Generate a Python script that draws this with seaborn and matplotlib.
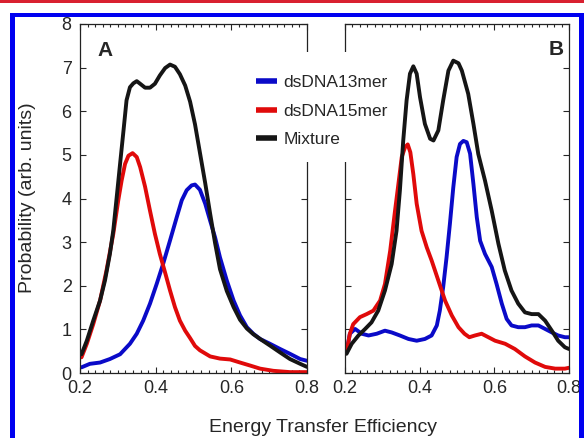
import numpy as np
import pandas as pd
import matplotlib
matplotlib.use("Agg")
import matplotlib.pyplot as plt
from matplotlib.patches import Rectangle
from matplotlib.lines import Line2D
from matplotlib.ticker import MultipleLocator
import seaborn as sns

sns.set_style("ticks")
plt.rcParams['font.family'] = ['Liberation Sans', 'DejaVu Sans']

# ---- Panel A data ----
a_mix_x = [0.204, 0.218, 0.235, 0.253, 0.266, 0.279, 0.288, 0.297, 0.306, 0.315, 0.323, 0.332,
           0.341, 0.350, 0.359, 0.372, 0.385, 0.398, 0.411, 0.425, 0.438, 0.451, 0.464, 0.478,
           0.491, 0.504, 0.517, 0.531, 0.544, 0.557, 0.570, 0.588, 0.606, 0.623, 0.641, 0.658,
           0.676, 0.702, 0.729, 0.755, 0.782, 0.800]
a_mix_y = [0.43, 0.74, 1.20, 1.66, 2.12, 2.73, 3.27, 4.03, 4.80, 5.56, 6.25, 6.55,
           6.64, 6.69, 6.63, 6.54, 6.54, 6.63, 6.82, 6.99, 7.07, 7.02, 6.85, 6.59,
           6.22, 5.70, 5.05, 4.35, 3.65, 2.98, 2.38, 1.88, 1.51, 1.22, 1.02, 0.89,
           0.78, 0.63, 0.47, 0.32, 0.21, 0.14]

a_15_x = [0.204, 0.218, 0.235, 0.253, 0.270, 0.288, 0.301, 0.310, 0.319, 0.328, 0.339, 0.350,
          0.359, 0.372, 0.385, 0.398, 0.411, 0.425, 0.438, 0.451, 0.464, 0.478, 0.491, 0.504,
          0.517, 0.544, 0.570, 0.597, 0.623, 0.650, 0.676, 0.711, 0.755, 0.800]
a_15_y = [0.36, 0.67, 1.12, 1.66, 2.35, 3.19, 3.95, 4.41, 4.79, 4.98, 5.04, 4.95,
          4.72, 4.27, 3.72, 3.19, 2.73, 2.30, 1.89, 1.51, 1.20, 0.97, 0.80, 0.62,
          0.52, 0.38, 0.33, 0.31, 0.24, 0.17, 0.10, 0.05, 0.02, 0.02]

a_13_x = [0.204, 0.226, 0.253, 0.279, 0.306, 0.332, 0.350, 0.367, 0.385, 0.403, 0.420, 0.438,
          0.456, 0.469, 0.482, 0.495, 0.504, 0.517, 0.531, 0.544, 0.557, 0.570, 0.588, 0.606,
          0.623, 0.641, 0.658, 0.676, 0.702, 0.729, 0.755, 0.782, 0.800]
a_13_y = [0.13, 0.21, 0.24, 0.32, 0.43, 0.67, 0.90, 1.20, 1.59, 2.05, 2.51, 3.04,
          3.58, 3.96, 4.19, 4.30, 4.32, 4.20, 3.88, 3.49, 3.11, 2.65, 2.12, 1.66,
          1.32, 1.05, 0.90, 0.78, 0.67, 0.55, 0.44, 0.32, 0.28]

# ---- Panel B data ----
b_mix_x = [0.204, 0.218, 0.236, 0.254, 0.271, 0.289, 0.307, 0.325, 0.338, 0.347, 0.356, 0.365,
           0.374, 0.383, 0.392, 0.401, 0.414, 0.428, 0.437, 0.450, 0.463, 0.477, 0.490, 0.504,
           0.513, 0.530, 0.544, 0.557, 0.575, 0.593, 0.611, 0.628, 0.646, 0.664, 0.682, 0.700,
           0.718, 0.736, 0.754, 0.771, 0.789, 0.800]
b_mix_y = [0.44, 0.67, 0.86, 1.01, 1.16, 1.43, 1.89, 2.50, 3.26, 4.18, 5.33, 6.25,
           6.86, 7.03, 6.86, 6.32, 5.71, 5.37, 5.33, 5.56, 6.25, 6.93, 7.16, 7.10,
           6.93, 6.40, 5.71, 5.02, 4.41, 3.72, 2.96, 2.35, 1.89, 1.59, 1.39, 1.35,
           1.35, 1.20, 0.97, 0.74, 0.59, 0.55]

b_15_x = [0.204, 0.213, 0.222, 0.240, 0.258, 0.276, 0.294, 0.307, 0.321, 0.334, 0.343, 0.352,
          0.361, 0.368, 0.375, 0.383, 0.392, 0.405, 0.419, 0.432, 0.450, 0.468, 0.486, 0.504,
          0.520, 0.533, 0.548, 0.566, 0.584, 0.602, 0.629, 0.655, 0.682, 0.709, 0.736, 0.763,
          0.789, 0.800]
b_15_y = [0.47, 0.90, 1.12, 1.28, 1.35, 1.43, 1.66, 2.04, 2.80, 3.72, 4.33, 4.95,
          5.18, 5.24, 5.06, 4.56, 3.88, 3.26, 2.88, 2.58, 2.12, 1.66, 1.32, 1.05,
          0.90, 0.82, 0.86, 0.90, 0.82, 0.74, 0.67, 0.55, 0.38, 0.24, 0.14, 0.10,
          0.10, 0.12]

b_13_x = [0.204, 0.213, 0.227, 0.245, 0.263, 0.285, 0.307, 0.325, 0.347, 0.370, 0.392, 0.414,
          0.432, 0.446, 0.454, 0.463, 0.472, 0.481, 0.490, 0.499, 0.508, 0.517, 0.526, 0.535,
          0.544, 0.553, 0.562, 0.575, 0.593, 0.606, 0.620, 0.633, 0.646, 0.664, 0.682, 0.700,
          0.718, 0.736, 0.754, 0.771, 0.789, 0.800]
b_13_y = [0.47, 0.90, 1.01, 0.90, 0.86, 0.90, 0.97, 0.93, 0.86, 0.78, 0.74, 0.78,
          0.86, 1.09, 1.43, 1.97, 2.65, 3.42, 4.25, 4.95, 5.25, 5.32, 5.29, 5.03,
          4.33, 3.57, 3.03, 2.73, 2.43, 2.04, 1.59, 1.24, 1.09, 1.05, 1.05, 1.09,
          1.09, 1.01, 0.93, 0.86, 0.82, 0.82]

series_names = ['dsDNA13mer', 'dsDNA15mer', 'Mixture']
colors = {'dsDNA13mer': '#0a0ac8', 'dsDNA15mer': '#e00a0a', 'Mixture': '#151515'}


def make_df(x13, y13, x15, y15, xm, ym):
    parts = []
    for name, xs, ys in [('dsDNA13mer', x13, y13), ('dsDNA15mer', x15, y15), ('Mixture', xm, ym)]:
        parts.append(pd.DataFrame({'E': xs, 'P': ys, 'sample': name}))
    return pd.concat(parts, ignore_index=True)


df_a = make_df(a_13_x, a_13_y, a_15_x, a_15_y, a_mix_x, a_mix_y)
df_b = make_df(b_13_x, b_13_y, b_15_x, b_15_y, b_mix_x, b_mix_y)

W, H = 584, 438
fig = plt.figure(figsize=(W / 100, H / 100), dpi=100)
ax_a = fig.add_axes([80 / W, 1 - 373 / H, 227 / W, 349 / H])
ax_b = fig.add_axes([345 / W, 1 - 373 / H, 224 / W, 349 / H])

for ax, df in [(ax_a, df_a), (ax_b, df_b)]:
    sns.lineplot(data=df, x='E', y='P', hue='sample', palette=colors, hue_order=series_names,
                 linewidth=2.8, ax=ax, legend=False, solid_joinstyle='round', solid_capstyle='round')
    ax.set_xlim(0.2, 0.8)
    ax.set_ylim(0, 8)
    ax.xaxis.set_major_locator(MultipleLocator(0.2))
    ax.xaxis.set_minor_locator(MultipleLocator(0.02))
    ax.yaxis.set_major_locator(MultipleLocator(1))
    ax.tick_params(which='both', direction='in', top=True, right=True, labelsize=13, width=0.8)
    ax.tick_params(which='major', length=4)
    ax.tick_params(which='minor', length=2)
    ax.tick_params(axis='x', pad=5)
    ax.tick_params(axis='y', pad=6)
    ax.set_xlabel('')
    ax.set_ylabel('')
    ax.xaxis.set_major_formatter(plt.FuncFormatter(lambda v, p: f'{v:.1f}'))
    for sp in ax.spines.values():
        sp.set_linewidth(0.9)
        sp.set_color('#222222')

ax_b.tick_params(labelleft=False)

ax_a.text(0.075, 0.925, 'A', transform=ax_a.transAxes, fontsize=15, fontweight='bold', ha='left', va='center')
ax_b.text(0.975, 0.928, 'B', transform=ax_b.transAxes, fontsize=15, fontweight='bold', ha='right', va='center')

fig.text(28 / W, 1 - 198 / H, 'Probability (arb. units)', rotation=90, ha='center', va='center', fontsize=14)
fig.text(323 / W, 1 - 427 / H, 'Energy Transfer Efficiency', ha='center', va='center', fontsize=14)

# white block behind the legend hides the inner spines between the panels
fig.add_artist(Rectangle((245 / W, 1 - 162 / H), 147 / W, 110 / H, transform=fig.transFigure,
                         facecolor='white', edgecolor='none', zorder=1))

handles = [Line2D([], [], color=colors[n], linewidth=4, solid_capstyle='butt') for n in series_names]
leg = fig.legend(handles, series_names, loc='upper left', bbox_to_anchor=(249 / W, 1 - 68 / H),
                 fontsize=12.5, frameon=False, borderpad=0.4, handlelength=1.2, handletextpad=0.4,
                 labelspacing=0.78, borderaxespad=0)

# page decorations: red rule at top and blue frame
fig.add_artist(Rectangle((0, 1 - 3 / H), 1, 3 / H, transform=fig.transFigure, color='#d92030', lw=0))
fig.add_artist(Rectangle((10 / W, 1 - 17 / H), (W - 10) / W, 4 / H, transform=fig.transFigure, color='#0000f0', lw=0))
fig.add_artist(Rectangle((10 / W, 0), 5 / W, 1 - 13 / H, transform=fig.transFigure, color='#0000f0', lw=0))
fig.add_artist(Rectangle((579 / W, 0), 5 / W, 1 - 13 / H, transform=fig.transFigure, color='#0000f0', lw=0))

fig.savefig('out.png', dpi=100)
